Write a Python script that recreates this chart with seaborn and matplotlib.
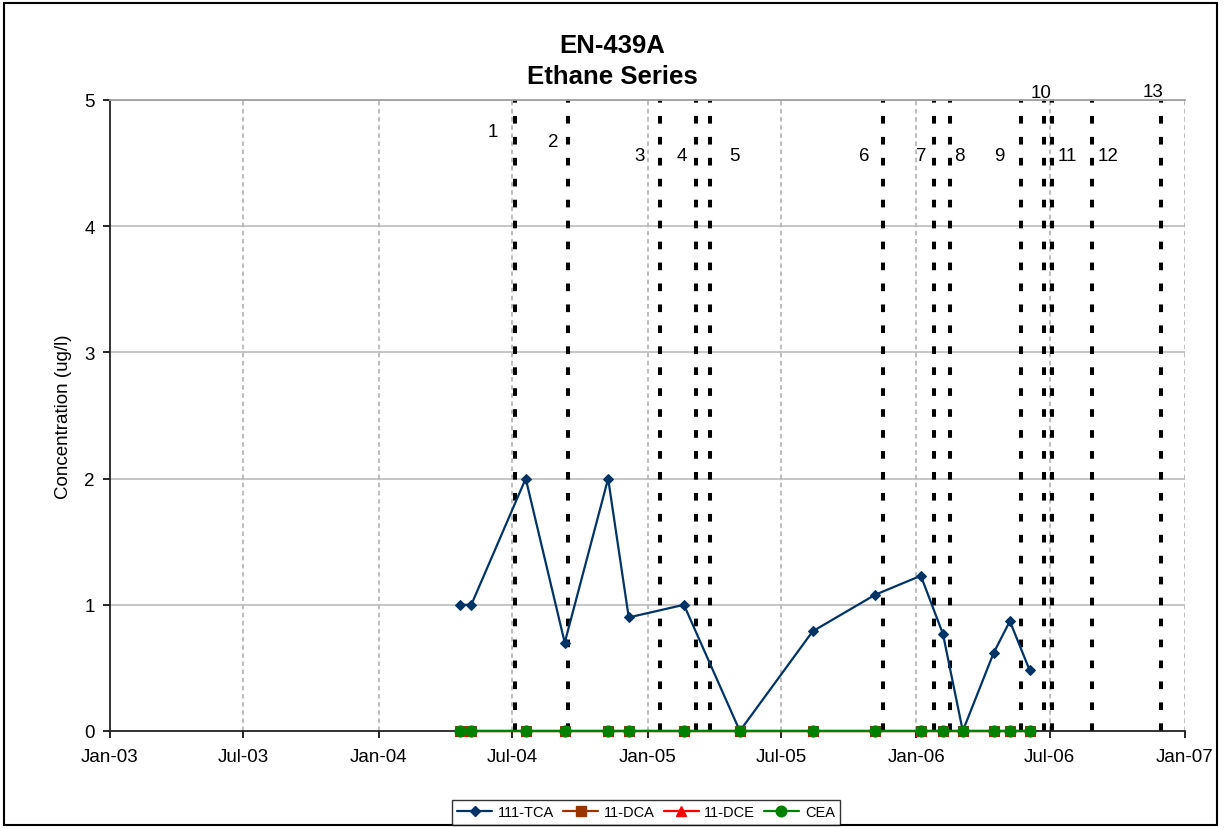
import pandas as pd
import matplotlib
matplotlib.use('Agg')
import matplotlib.pyplot as plt
import matplotlib.dates as mdates
from matplotlib.patches import Rectangle
import seaborn as sns

# --- Data ---
SAMPLE_DATES = ['2004-04-21', '2004-05-06', '2004-07-19', '2004-09-10', '2004-11-08',
                '2004-12-06', '2005-02-19', '2005-05-06', '2005-08-13', '2005-11-06',
                '2006-01-07', '2006-02-06', '2006-03-05', '2006-04-16', '2006-05-08',
                '2006-06-04']
TCA_111 = [1.0, 1.0, 2.0, 0.7, 2.0, 0.9, 1.0, 0.0, 0.79, 1.08, 1.23, 0.77, 0.0, 0.62, 0.87, 0.48]
DCA_11 = [0.0] * 16
DCE_11 = [0.0] * 16
CEA = [0.0] * 16

# event markers (dashed verticals) and their numbered labels
EVENT_DATES = ['2004-07-04', '2004-09-14', '2005-01-17', '2005-03-07', '2005-03-26',
               '2005-11-16', '2006-01-25', '2006-02-15', '2006-05-23', '2006-06-23',
               '2006-07-04', '2006-08-27', '2006-11-29']
EVENT_LABELS = [str(i) for i in range(1, 14)]
LABEL_DATES = ['2004-06-04', '2004-08-25', '2004-12-21', '2005-02-16', '2005-04-28',
               '2005-10-22', '2006-01-07', '2006-03-01', '2006-04-23', '2006-06-19',
               '2006-07-25', '2006-09-18', '2006-11-18']
LABEL_Y = [4.75, 4.67, 4.56, 4.56, 4.56, 4.56, 4.56, 4.56, 4.56, 5.06, 4.56, 4.56, 5.07]

# series styling
SERIES = {
    '111-TCA': dict(values=TCA_111, color='#003366', marker='D', ms=5.5),
    '11-DCA': dict(values=DCA_11, color='#993300', marker='s', ms=7),
    '11-DCE': dict(values=DCE_11, color='#FF0000', marker='^', ms=7),
    'CEA': dict(values=CEA, color='#008000', marker='o', ms=8),
}


def make_chart():
    sns.set_style('white')
    plt.rcParams['font.family'] = ['Liberation Sans', 'DejaVu Sans']
    plt.rcParams['text.color'] = 'black'
    plt.rcParams['axes.labelcolor'] = 'black'

    dates = pd.to_datetime(SAMPLE_DATES)

    fig = plt.figure(figsize=(12.25, 8.29), dpi=100)
    ax = fig.add_axes([110 / 1225, 1 - 732 / 829, 1075 / 1225, 631 / 829])

    # horizontal grid
    for yv in range(1, 6):
        ax.axhline(yv, color='#c0c0c0', lw=1.3, zorder=0)

    # vertical dashed grid at 6-month ticks
    tick_dates = pd.date_range('2003-01-01', '2007-01-01', freq='6MS')
    for d in tick_dates[1:]:
        ax.axvline(d, color='#b8b8b8', lw=1.3, ls=(0, (2.5, 2)), zorder=0)

    # event lines
    ax.vlines(pd.to_datetime(EVENT_DATES), 0, 5, colors='black', lw=2.9,
              linestyles=[(0, (1.9, 3.3))], zorder=1)
    for lab, d, y in zip(EVENT_LABELS, pd.to_datetime(LABEL_DATES), LABEL_Y):
        ax.text(d, y, lab, ha='center', va='center', fontsize=13.5, clip_on=False)

    # concentration series
    handles = []
    for name, s in SERIES.items():
        df = pd.DataFrame({'Date': dates, 'Value': s['values']})
        sns.lineplot(data=df, x='Date', y='Value', ax=ax, color=s['color'], lw=1.6,
                     marker=s['marker'], markersize=s['ms'], markeredgecolor=s['color'],
                     zorder=3, clip_on=False)
        handles.append(plt.Line2D([], [], color=s['color'], lw=1.6, marker=s['marker'],
                                  markersize=s['ms'] * 0.95, markeredgecolor=s['color']))

    ax.set_xlim(pd.Timestamp('2003-01-01'), pd.Timestamp('2007-01-01'))
    ax.set_ylim(0, 5)
    ax.set_yticks(range(0, 6))
    ax.xaxis.set_major_locator(mdates.MonthLocator(bymonth=[1, 7]))
    ax.xaxis.set_major_formatter(mdates.DateFormatter('%b-%y'))

    ax.tick_params(axis='both', direction='out', length=5, width=1.2, colors='black',
                   labelsize=13.5)
    ax.tick_params(axis='x', pad=7, bottom=True)
    ax.tick_params(axis='y', pad=6, left=True)

    for side in ['left', 'bottom']:
        ax.spines[side].set_color('#222222')
        ax.spines[side].set_linewidth(1.3)
    ax.spines['top'].set_color('#a0a0a0')
    ax.spines['top'].set_linewidth(1.3)
    ax.spines['right'].set_visible(False)

    ax.set_xlabel('')
    ax.set_ylabel('Concentration (ug/l)', fontsize=13.5, labelpad=9)

    # title
    fig.text(612 / 1225, 1 - 53 / 829, 'EN-439A', ha='center', va='baseline',
             fontsize=18.5, fontweight='bold')
    fig.text(612 / 1225, 1 - 84 / 829, 'Ethane Series', ha='center', va='baseline',
             fontsize=18.5, fontweight='bold')

    # legend at the bottom
    leg = fig.legend(handles, list(SERIES.keys()), loc='center', ncol=4,
                     bbox_to_anchor=(646 / 1225, 1 - 813.5 / 829), fontsize=10.5,
                     frameon=True, fancybox=False, borderpad=0.35, handlelength=2.4,
                     handletextpad=0.4, columnspacing=0.6, borderaxespad=0)
    leg.get_frame().set_edgecolor('black')
    leg.get_frame().set_linewidth(1.0)

    # chart border
    fig.patches.append(Rectangle((4 / 1225, 3 / 829), 1213 / 1225, 822 / 829,
                                 transform=fig.transFigure, fill=False,
                                 edgecolor='black', lw=1.5))

    fig.savefig('out.png', dpi=100)


if __name__ == '__main__':
    make_chart()
